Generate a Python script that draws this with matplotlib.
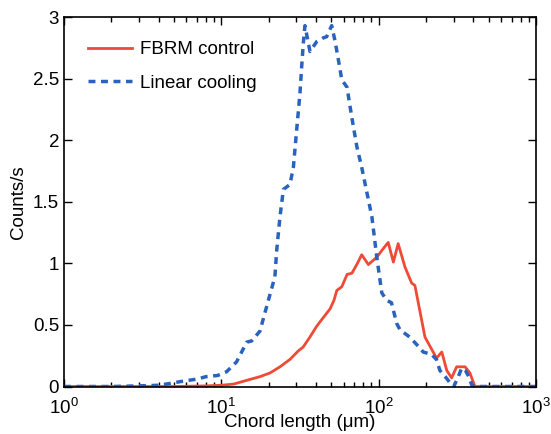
import matplotlib
matplotlib.use("Agg")
import matplotlib.pyplot as plt
from matplotlib.ticker import FixedLocator, FixedFormatter, LogLocator, NullFormatter

plt.rcParams['font.family'] = ['Liberation Sans', 'DejaVu Sans']
plt.rcParams['mathtext.fontset'] = 'custom'
plt.rcParams['mathtext.rm'] = 'Liberation Sans'
plt.rcParams['mathtext.it'] = 'Liberation Sans:italic'

# Linear cooling (dashed blue)
lin_x = [1.0, 2, 3, 4, 5, 5.5, 7, 8, 9.5, 10.8, 12.5, 14.5, 15.6, 17.6, 19.9, 21.9,
         22.5, 23.6, 24.8, 27.3, 28.7, 30.1, 31.6, 32.5, 33.2, 34.0, 36.6, 40.4,
         44.4, 46.7, 50.3, 52.9, 55.5, 58.3, 62.9, 67.6, 72.6, 78.0, 84, 90.5,
         97.3, 104.7, 112.5, 120.6, 130.4, 136.7, 158, 174.6, 192, 217, 233, 245,
         265, 284, 300, 321, 337, 356, 374, 391, 410, 1000]
lin_y = [0, 0, 0.005, 0.01, 0.03, 0.04, 0.06, 0.08, 0.09, 0.12, 0.2, 0.36, 0.37,
         0.45, 0.70, 0.89, 1.11, 1.38, 1.60, 1.64, 1.78, 2.08, 2.38, 2.62, 2.79,
         2.93, 2.72, 2.80, 2.83, 2.84, 2.93, 2.80, 2.65, 2.49, 2.43, 2.18, 1.95,
         1.78, 1.58, 1.38, 1.05, 0.76, 0.70, 0.68, 0.51, 0.46, 0.40, 0.34, 0.28,
         0.26, 0.22, 0.13, 0.08, 0.03, 0.0, 0.08, 0.15, 0.13, 0.08, 0.01, 0, 0]

# FBRM control (solid red)
fbrm_x = [1, 5, 8, 10, 12, 14.5, 17.6, 20.4, 23.6, 27.3, 30.9, 33.1, 36.5, 40.4,
          44.5, 49.1, 52, 54.2, 58.3, 63, 67.6, 72.6, 78, 86, 97.3, 107, 115, 124,
          133, 147, 162, 170, 197, 222, 233, 252, 271, 291, 313, 354, 380, 409, 1000]
fbrm_y = [0, 0, 0.005, 0.01, 0.02, 0.05, 0.08, 0.11, 0.16, 0.22, 0.29, 0.32, 0.40,
          0.49, 0.56, 0.63, 0.70, 0.78, 0.81, 0.91, 0.92, 0.99, 1.07, 0.99, 1.05,
          1.12, 1.17, 1.01, 1.16, 0.97, 0.84, 0.82, 0.40, 0.28, 0.23, 0.28, 0.13,
          0.07, 0.16, 0.16, 0.11, 0, 0]

yticks = [0, 0.5, 1, 1.5, 2, 2.5, 3]
ytick_labels = ['0', '0.5', '1', '1.5', '2', '2.5', '3']
xticks = [1, 10, 100, 1000]
xtick_labels = [r'$10^{0}$', r'$10^{1}$', r'$10^{2}$', r'$10^{3}$']

fig = plt.figure(figsize=(5.51, 4.34), dpi=100)
ax = fig.add_axes([64/551, 1 - 386.5/434, (536-64)/551, (386.5-17)/434])

ax.plot(fbrm_x, fbrm_y, color='#ee4a36', lw=2.0, label='FBRM control')
ax.plot(lin_x, lin_y, color='#2a62c0', lw=2.5, ls=(0, (2.0, 1.6)), label='Linear cooling')

ax.set_xscale('log')
ax.set_xlim(1, 1000)
ax.set_ylim(0, 3)
ax.xaxis.set_major_locator(FixedLocator(xticks))
ax.xaxis.set_major_formatter(FixedFormatter(xtick_labels))
ax.xaxis.set_minor_locator(LogLocator(base=10, subs=range(2, 10)))
ax.xaxis.set_minor_formatter(NullFormatter())
ax.yaxis.set_major_locator(FixedLocator(yticks))
ax.yaxis.set_major_formatter(FixedFormatter(ytick_labels))

ax.tick_params(which='both', direction='in', top=True, right=True, labelsize=13.5, width=1)
ax.tick_params(which='major', length=6)
ax.tick_params(which='minor', length=3.5)
ax.tick_params(axis='x', pad=8)
for s in ax.spines.values():
    s.set_linewidth(1.2)

ax.set_xlabel('Chord length (\u03bcm)', fontsize=13.5, labelpad=-3)
ax.set_ylabel('Counts/s', fontsize=13.5, labelpad=4)

ax.legend(loc='upper left', frameon=False, fontsize=13.5, handlelength=2.3,
          handletextpad=0.45, borderaxespad=0.9, labelspacing=0.85)

fig.savefig('out.png', dpi=100)
